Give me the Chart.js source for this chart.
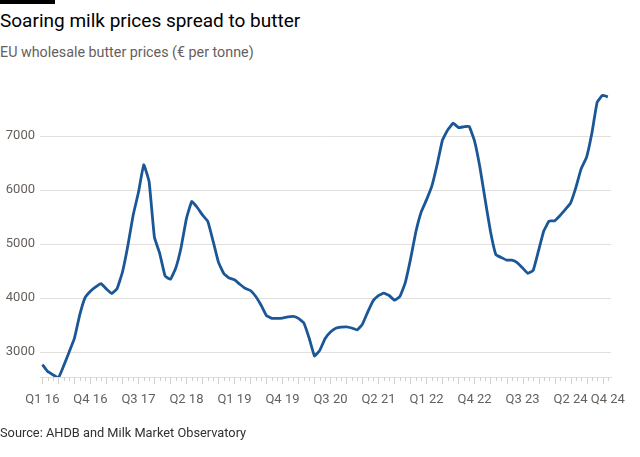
<!DOCTYPE html>
<html>
<head>
<meta charset="utf-8">
<script src="https://cdn.jsdelivr.net/npm/chart.js@4.4.0/dist/chart.umd.min.js"></script>
<style>
  body { margin: 0; background: #fff; width: 640px; height: 457px; overflow: hidden; position: relative; font-family: Roboto, sans-serif; }
  #bar { position: absolute; left: 0; top: 0; width: 55px; height: 4px; background: #000; }
  #title { position: absolute; left: 0; top: 9px; font-size: 19px; color: #000; white-space: nowrap; }
  #subtitle { position: absolute; left: 0; top: 44px; font-size: 14.3px; color: #66605c; white-space: nowrap; }
  #source { position: absolute; left: 0; top: 425px; font-size: 12.8px; color: #33302e; white-space: nowrap; }
  #chart { position: absolute; left: 0; top: 0; }
</style>
</head>
<body>
<div id="bar"></div>
<div id="title">Soaring milk prices spread to butter</div>
<div id="subtitle">EU wholesale butter prices (€ per tonne)</div>
<canvas id="chart" width="640" height="457"></canvas>
<div id="source">Source: AHDB and Milk Market Observatory</div>
<script>
// Цены на масло, помесячно с января 2016 (евро за тонну)
const butterPrices = [
  2770, 2640, 2580, 2525, 2750, 3000, 3255, 3690, 4010, 4130,
  4210, 4268, 4170, 4086, 4178, 4480, 4960, 5533, 5956, 6470,
  6160, 5128, 4826, 4410, 4350, 4558, 4939, 5474, 5790, 5684,
  5542, 5423, 5055, 4668, 4457, 4373, 4341, 4258, 4183, 4142,
  4030, 3869, 3677, 3626, 3625, 3632, 3652, 3662, 3625, 3542,
  3262, 2930, 3033, 3253, 3375, 3443, 3462, 3469, 3447, 3412,
  3519, 3747, 3953, 4046, 4092, 4050, 3963, 4030, 4279, 4718,
  5226, 5593, 5820, 6074, 6476, 6930, 7120, 7240, 7160, 7174,
  7181, 6913, 6432, 5822, 5233, 4807, 4754, 4705, 4704, 4658,
  4561, 4460, 4515, 4879, 5248, 5428, 5431, 5526, 5640, 5759,
  6046, 6399, 6608, 7053, 7629, 7757, 7728
];

// Подписи оси X и номера месяцев, к которым они относятся
const xTickLabels = ['Q1 16', 'Q4 16', 'Q3 17', 'Q2 18', 'Q1 19', 'Q4 19', 'Q3 20',
                     'Q2 21', 'Q1 22', 'Q4 22', 'Q3 23', 'Q2 24', 'Q4 24'];
const xTickMonths = [0, 9, 18, 27, 36, 45, 54, 63, 72, 81, 90, 99, 106];

const yTicks = [3000, 4000, 5000, 6000, 7000];

const points = butterPrices.map((v, i) => ({ x: i, y: v }));

// Мелкие засечки по месяцам под осью X
const monthTicks = {
  id: 'monthTicks',
  afterDraw(chart) {
    const xs = chart.scales.x;
    const c = chart.ctx;
    const y0 = chart.chartArea.bottom;
    c.save();
    c.strokeStyle = '#d6d1cc';
    c.lineWidth = 1;
    for (let i = 0; i < butterPrices.length; i++) {
      const x = Math.round(xs.getPixelForValue(i)) + 0.5;
      c.beginPath();
      c.moveTo(x, y0);
      c.lineTo(x, y0 + (i % 3 === 0 ? 7 : 4));
      c.stroke();
    }
    c.restore();
  }
};

const ctx = document.getElementById('chart').getContext('2d');
new Chart(ctx, {
  type: 'line',
  data: {
    datasets: [{
      data: points,
      borderColor: '#1b5797',
      borderWidth: 2.8,
      pointRadius: 0,
      tension: 0.1,
      borderJoinStyle: 'round',
      fill: false
    }]
  },
  options: {
    responsive: false,
    animation: false,
    devicePixelRatio: 1,
    layout: { padding: { top: 93, right: 18, bottom: 40, left: 0 } },
    plugins: { legend: { display: false }, tooltip: { enabled: false } },
    scales: {
      x: {
        type: 'linear',
        min: -0.45,
        max: 106.6,
        grid: { display: false, drawTicks: false },
        border: { display: true, color: '#e0dcd8' },
        afterBuildTicks: s => { s.ticks = xTickMonths.map(v => ({ value: v })); },
        afterFit: s => { s.height = 40; },
        ticks: {
          autoSkip: false,
          maxRotation: 0,
          padding: 15,
          color: '#66605c',
          font: { family: 'Roboto', size: 13 },
          callback: (v) => xTickLabels[xTickMonths.indexOf(v)]
        }
      },
      y: {
        min: 2540,
        max: 7800,
        grid: { color: '#e2dfdc', drawTicks: false },
        border: { display: false },
        afterBuildTicks: s => { s.ticks = yTicks.map(v => ({ value: v })); },
        afterFit: s => { s.width = 40; },
        ticks: {
          padding: 5,
          color: '#66605c',
          font: { family: 'Roboto', size: 13 },
          callback: v => String(v)
        }
      }
    }
  },
  plugins: [monthTicks]
});
</script>
</body>
</html>
